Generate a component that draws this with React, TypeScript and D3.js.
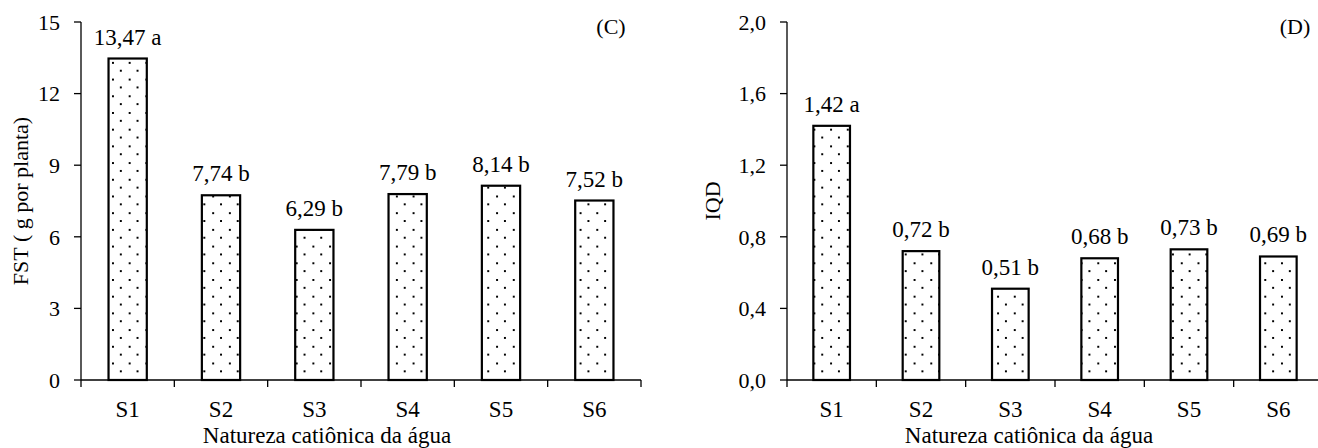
import { scaleBand, scaleLinear } from "d3";

const categories = ["S1", "S2", "S3", "S4", "S5", "S6"];
const fstValues = [13.47, 7.74, 6.29, 7.79, 8.14, 7.52];
const fstLetters = ["a", "b", "b", "b", "b", "b"];
const fstTicks = [0, 3, 6, 9, 12, 15];
const iqdValues = [1.42, 0.72, 0.51, 0.68, 0.73, 0.69];
const iqdLetters = ["a", "b", "b", "b", "b", "b"];
const iqdTicks = [0, 0.4, 0.8, 1.2, 1.6, 2.0];

const FONT = "'Liberation Serif', 'Times New Roman', serif";
const comma = (v: number, d: number) => v.toFixed(d).replace(".", ",");

type PanelProps = {
  values: number[];
  letters: string[];
  ticks: number[];
  tickDigits: number;
  left: number;
  right: number;
  yLabel: string;
  yLabelX: number;
  tag: string;
  tagX: number;
  titleX: number;
};

const TOP = 22;
const BOTTOM = 380;

const Panel = ({ values, letters, ticks, tickDigits, left, right, yLabel, yLabelX, tag, tagX, titleX }: PanelProps) => {
  const x = scaleBand().domain(categories).range([left, right]).paddingInner(0.59).paddingOuter(0.295);
  const outer = scaleBand().domain(categories).range([left, right]);
  const y = scaleLinear().domain([0, ticks[ticks.length - 1]]).range([BOTTOM, TOP]);

  return (
    <g fontFamily={FONT} fill="#000">
      {values.map((v, i) => (
        <g key={categories[i]}>
          <rect
            x={x(categories[i])}
            y={y(v)}
            width={x.bandwidth()}
            height={BOTTOM - y(v)}
            fill="url(#dots)"
            stroke="#000"
            strokeWidth={2.2}
          />
          <text x={x(categories[i])! + x.bandwidth() / 2} y={y(v) - 14} textAnchor="middle" fontSize={23}>
            {comma(v, 2)} {letters[i]}
          </text>
          <text x={outer(categories[i])! + outer.bandwidth() / 2} y={417} textAnchor="middle" fontSize={23}>
            {categories[i]}
          </text>
        </g>
      ))}
      {/* y axis */}
      <line x1={left} x2={left} y1={TOP} y2={BOTTOM} stroke="#000" strokeWidth={1.3} />
      {ticks.map((t) => (
        <g key={t}>
          <line x1={left - 7} x2={left} y1={y(t)} y2={y(t)} stroke="#000" strokeWidth={1.3} />
          <text x={left - 21} y={y(t)} dy="0.35em" textAnchor="end" fontSize={22}>
            {comma(t, tickDigits)}
          </text>
        </g>
      ))}
      {/* x axis */}
      <line x1={left} x2={right} y1={BOTTOM} y2={BOTTOM} stroke="#000" strokeWidth={1.3} />
      {categories.map((c) => (
        <line key={c} x1={outer(c)} x2={outer(c)} y1={BOTTOM} y2={BOTTOM + 7} stroke="#000" strokeWidth={1.3} />
      ))}
      <line x1={right} x2={right} y1={BOTTOM} y2={BOTTOM + 7} stroke="#000" strokeWidth={1.3} />
      <text
        transform={`translate(${yLabelX},${(TOP + BOTTOM) / 2}) rotate(-90)`}
        textAnchor="middle"
        fontSize={22}
      >
        {yLabel}
      </text>
      <text x={titleX} y={443} textAnchor="middle" fontSize={23}>
        Natureza catiônica da água
      </text>
      <text x={tagX} y={34} textAnchor="middle" fontSize={22}>
        {tag}
      </text>
    </g>
  );
};

export default function App() {
  return (
    <svg
      width={1318}
      height={448}
      style={{ position: "absolute", left: 0, top: 0, background: "#fff" }}
    >
      <defs>
        <pattern id="dots" patternUnits="userSpaceOnUse" width={16.7} height={16.7}>
          <rect width={16.7} height={16.7} fill="#fff" />
          <rect x={3} y={3} width={2} height={2} fill="#000" shapeRendering="crispEdges" />
          <rect x={11.35} y={11.35} width={2} height={2} fill="#000" shapeRendering="crispEdges" />
        </pattern>
      </defs>
      <Panel
        values={fstValues}
        letters={fstLetters}
        ticks={fstTicks}
        tickDigits={0}
        left={81}
        right={641}
        yLabel="FST ( g por planta)"
        yLabelX={28}
        tag="(C)"
        tagX={611}
        titleX={327}
      />
      <Panel
        values={iqdValues}
        letters={iqdLetters}
        ticks={iqdTicks}
        tickDigits={1}
        left={787}
        right={1323}
        yLabel="IQD"
        yLabelX={720}
        tag="(D)"
        tagX={1295}
        titleX={1029}
      />
    </svg>
  );
}
